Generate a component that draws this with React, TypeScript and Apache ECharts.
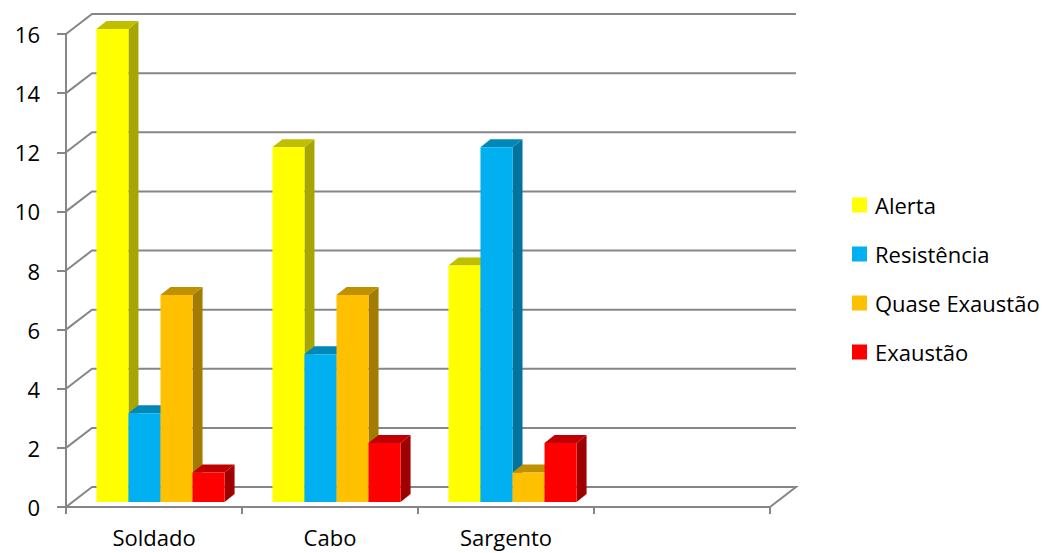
import React, { useEffect, useRef } from "react";
import * as echarts from "echarts";

const categories = ["Soldado", "Cabo", "Sargento", ""];
const seriesNames = ["Alerta", "Resistência", "Quase Exaustão", "Exaustão"];
const alerta = [16, 12, 8];
const resistencia = [3, 5, 12];
const quaseExaustao = [7, 7, 1];
const exaustao = [1, 2, 2];
const yTicks = [0, 2, 4, 6, 8, 10, 12, 14, 16];

const frontColors = ["#FFFF00", "#00B0F0", "#FFC000", "#FF0000"];
const sideColors = ["#A6A600", "#00739E", "#A37B00", "#A00000"];
const topColors = ["#BFBF00", "#0088B8", "#BF9000", "#C00000"];

const FONT = "'Open Sans', 'Noto Sans', sans-serif";
const GRID_COLOR = "#868686";
const WALL_DX = 26;
const WALL_DY = -20;

export default function App() {
  const ref = useRef<HTMLDivElement>(null);
  useEffect(() => {
    if (!ref.current) return;
    const chart = echarts.init(ref.current, null, { renderer: "svg" });
    const allData = [alerta, resistencia, quaseExaustao, exaustao];

    const barSeries = allData.map((vals, k) => ({
      type: "custom",
      name: seriesNames[k],
      z: 3,
      itemStyle: { color: frontColors[k] },
      encode: { x: 0, y: 1 },
      data: vals.map((v, i) => [i, v]),
      renderItem: (params: any, api: any) => {
        const idx = api.value(0);
        const val = api.value(1);
        const top = api.coord([idx, val]);
        const base = api.coord([idx, 0]);
        const band = api.size([1, 0])[0];
        const bw = band * 0.182;
        const offX = WALL_DX * 0.25;
        const offY = WALL_DY * 0.25;
        const x0 = top[0] - 2 * bw + k * bw + offX;
        const x1 = x0 + bw;
        const yt = top[1] + offY;
        const yb = base[1] + offY;
        const dx = 10;
        const dy = -8;
        return {
          type: "group",
          children: [
            {
              type: "polygon",
              shape: { points: [[x1, yt], [x1 + dx, yt + dy], [x1 + dx, yb + dy], [x1, yb]] },
              style: { fill: sideColors[k] },
            },
            {
              type: "polygon",
              shape: { points: [[x0, yt], [x0 + dx, yt + dy], [x1 + dx, yt + dy], [x1, yt]] },
              style: { fill: topColors[k] },
            },
            {
              type: "rect",
              shape: { x: x0, y: yt, width: bw, height: yb - yt },
              style: { fill: frontColors[k] },
            },
          ],
        };
      },
    }));

    const gridSeries = {
      type: "custom",
      name: "grid",
      z: 1,
      silent: true,
      encode: { x: 0, y: 1 },
      data: yTicks.map((v) => [0, v]),
      renderItem: (params: any, api: any) => {
        const v = api.value(1);
        const band = api.size([1, 0])[0];
        const left = api.coord([0, v]);
        const right = api.coord([categories.length - 1, v]);
        const xl = left[0] - band / 2;
        const xr = right[0] + band / 2;
        const y = left[1];
        const pts: number[][] = [
          [xl, y],
          [xl + WALL_DX, y + WALL_DY],
          [xr + WALL_DX, y + WALL_DY],
        ];
        if (v === 0) pts.push([xr, y]);
        return {
          type: "polyline",
          shape: { points: pts },
          style: { stroke: GRID_COLOR, lineWidth: 2, fill: "none" },
        };
      },
    };

    chart.setOption({
      animation: false,
      backgroundColor: "#ffffff",
      grid: { left: 66, right: 281, top: 34, bottom: 46 },
      legend: {
        orient: "vertical",
        left: 852,
        top: 194,
        padding: 0,
        itemWidth: 15,
        itemHeight: 15,
        itemGap: 27,
        icon: "rect",
        data: seriesNames,
        textStyle: {
          fontFamily: FONT,
          fontSize: 22,
          color: "#000",
          lineHeight: 22,
          padding: [0, 0, 0, 3],
        },
      },
      xAxis: {
        type: "category",
        data: categories,
        boundaryGap: true,
        axisLine: { show: true, lineStyle: { color: GRID_COLOR, width: 2 } },
        axisTick: { show: true, length: 7, lineStyle: { color: GRID_COLOR, width: 2 } },
        axisLabel: { margin: 18, fontFamily: FONT, fontSize: 22, lineHeight: 24, color: "#000" },
        splitLine: { show: false },
      },
      yAxis: {
        type: "value",
        min: 0,
        max: 16,
        interval: 2,
        axisLine: { show: true, lineStyle: { color: GRID_COLOR, width: 2 } },
        axisTick: { show: true, length: 9, lineStyle: { color: GRID_COLOR, width: 2 } },
        axisLabel: { margin: 26, fontFamily: FONT, fontSize: 22, color: "#000" },
        splitLine: { show: false },
      },
      series: [gridSeries, ...barSeries],
    });
    return () => chart.dispose();
  }, []);
  return (
    <div
      ref={ref}
      style={{ position: "absolute", left: 0, top: 0, width: 1051, height: 553, background: "#fff" }}
    />
  );
}
